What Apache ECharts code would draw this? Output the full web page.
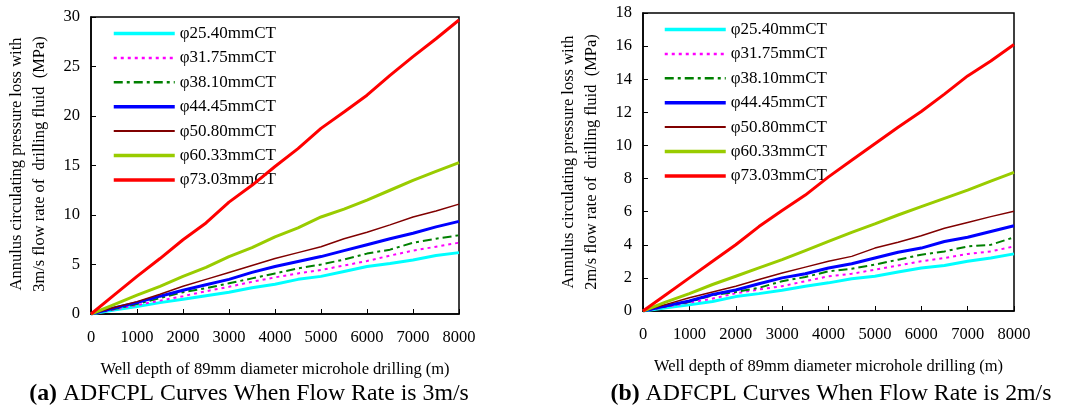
<!DOCTYPE html>
<html>
<head>
<meta charset="utf-8">
<script src="https://cdn.jsdelivr.net/npm/echarts@6/dist/echarts.min.js"></script>
<style>
html,body{margin:0;padding:0;background:#fff;}
#chart{width:1073px;height:408px;}
</style>
</head>
<body>
<div id="chart"></div>
<script>
// ---------- DATA ----------
const depths = [0,500,1000,1500,2000,2500,3000,3500,4000,4500,5000,5500,6000,6500,7000,7500,8000];
const seriesNames = ['φ25.40mmCT','φ31.75mmCT','φ38.10mmCT','φ44.45mmCT','φ50.80mmCT','φ60.33mmCT','φ73.03mmCT'];

// (a) flow rate 3 m/s  (MPa)
const a_25_40 = [0,0.4,0.75,1.15,1.5,1.85,2.2,2.65,3.0,3.5,3.8,4.3,4.8,5.1,5.45,5.9,6.2];
const a_31_75 = [0,0.45,0.9,1.35,1.8,2.3,2.75,3.25,3.7,4.1,4.45,4.9,5.35,5.9,6.4,6.8,7.2];
const a_38_10 = [0,0.5,1.0,1.6,2.2,2.6,3.1,3.6,4.1,4.6,5.0,5.5,6.1,6.5,7.2,7.6,7.95];
const a_44_45 = [0,0.6,1.15,1.8,2.4,2.95,3.5,4.2,4.8,5.3,5.8,6.4,7.0,7.6,8.15,8.8,9.36];
const a_50_80 = [0,0.65,1.25,2.0,2.8,3.5,4.2,4.9,5.6,6.2,6.8,7.6,8.25,9.0,9.8,10.4,11.1];
const a_60_33 = [0,0.95,1.9,2.8,3.8,4.7,5.8,6.7,7.8,8.7,9.8,10.6,11.5,12.5,13.5,14.4,15.3];
const a_73_03 = [0,1.9,3.8,5.6,7.5,9.2,11.3,13.0,14.9,16.7,18.75,20.4,22.1,24.1,26.0,27.8,29.7];

// (b) flow rate 2 m/s  (MPa)
const b_25_40 = [0,0.2,0.37,0.57,0.87,1.05,1.25,1.5,1.7,1.95,2.1,2.35,2.6,2.75,3.0,3.2,3.45];
const b_31_75 = [0,0.25,0.5,0.75,1.07,1.3,1.5,1.8,2.1,2.25,2.5,2.75,3.0,3.2,3.45,3.6,3.9];
const b_38_10 = [0,0.28,0.55,0.95,1.15,1.4,1.8,2.05,2.4,2.55,2.8,3.1,3.4,3.6,3.9,4.0,4.45];
const b_44_45 = [0,0.32,0.6,1.0,1.27,1.65,2.0,2.25,2.6,2.85,3.2,3.55,3.8,4.2,4.45,4.8,5.15];
const b_50_80 = [0,0.4,0.8,1.15,1.5,1.9,2.3,2.65,3.0,3.3,3.8,4.15,4.55,5.0,5.35,5.7,6.03];
const b_60_33 = [0,0.55,1.05,1.6,2.1,2.6,3.1,3.65,4.2,4.75,5.26,5.8,6.3,6.8,7.3,7.85,8.37];
const b_73_03 = [0,1.0,2.0,3.0,4.0,5.1,6.07,7.0,8.1,9.1,10.1,11.1,12.05,13.1,14.2,15.1,16.1];

const xTicks = {min:0, max:8000, interval:1000};
const yTicksA = {min:0, max:30, interval:5};
const yTicksB = {min:0, max:18, interval:2};

const xTitle = 'Well depth of 89mm diameter microhole drilling (m)';
const yTitleA = 'Annulus circulating pressure loss with\n3m/s flow rate of  drilling fluid  (MPa)';
const yTitleB = 'Annulus circulating pressure loss with\n2m/s flow rate of  drilling fluid  (MPa)';
const captionA = ['(a)', ' ADFCPL Curves When Flow Rate is 3m/s'];
const captionB = ['(b)', ' ADFCPL Curves When Flow Rate is 2m/s'];

// ---------- STYLE ----------
const FONT = '"Liberation Serif","Times New Roman",serif';
const styles = [
  {color:'#00FFFF', width:3, type:'solid'},
  {color:'#FF00FF', width:2, type:[3,4]},
  {color:'#008000', width:2, type:[9,4,3,4]},
  {color:'#0000FF', width:3, type:'solid'},
  {color:'#800000', width:1.5, type:'solid'},
  {color:'#99CC00', width:3, type:'solid'},
  {color:'#FF0000', width:3, type:'solid'}
];
const dataA = [a_25_40,a_31_75,a_38_10,a_44_45,a_50_80,a_60_33,a_73_03];
const dataB = [b_25_40,b_31_75,b_38_10,b_44_45,b_50_80,b_60_33,b_73_03];

function pairs(vals){ return depths.map((d,i)=>[d, vals[i]]); }

function mkSeries(arr, idx){
  return arr.map((vals,i)=>({
    name: seriesNames[i],
    type:'line',
    xAxisIndex: idx, yAxisIndex: idx,
    data: pairs(vals),
    symbol:'none', showSymbol:false,
    smooth:false,
    lineStyle:{color:styles[i].color, width:styles[i].width, type:styles[i].type},
    itemStyle:{color:styles[i].color},
    emphasis:{disabled:true},
    z: 2 + i
  }));
}

function xAxisCfg(idx){
  return {
    type:'value', gridIndex:idx, min:xTicks.min, max:xTicks.max, interval:xTicks.interval,
    name:xTitle, nameLocation:'middle', nameGap:47,
    nameTextStyle:{fontFamily:FONT, fontSize:16.5, color:'#000'},
    axisLine:{show:true, lineStyle:{color:'#000', width:1.5}},
    axisTick:{show:true, inside:true, length:5, lineStyle:{color:'#000', width:1}},
    axisLabel:{fontFamily:FONT, fontSize:16.5, color:'#000', margin:15, formatter:(v)=>String(v)},
    splitLine:{show:false}
  };
}
function yAxisCfg(idx, t){
  return {
    type:'value', gridIndex:idx, min:t.min, max:t.max, interval:t.interval,
    axisLine:{show:true, lineStyle:{color:'#000', width:1.5}},
    axisTick:{show:true, inside:true, length:5, lineStyle:{color:'#000', width:1}},
    axisLabel:{fontFamily:FONT, fontSize:16.5, color:'#000', margin:11, formatter:(v)=>String(v)},
    splitLine:{show:false}
  };
}
function legendCfg(left, top){
  return {
    orient:'vertical', left:left, top:top, padding:0,
    itemWidth:61, itemHeight:14, itemGap:7.4,
    data: seriesNames.map((n,i)=>({
      name:n,
      lineStyle:{color:styles[i].color, width:styles[i].width + 0.5, type:styles[i].type}
    })),
    itemStyle:{opacity:0, color:'transparent', borderWidth:0},
    textStyle:{fontFamily:FONT, fontSize:17, color:'#000'},
    selectedMode:false
  };
}

const chart = echarts.init(document.getElementById('chart'), null, {renderer:'canvas'});
chart.setOption({
  animation:false,
  backgroundColor:'#fff',
  grid:[
    {left:91, top:17, width:368, height:297, show:true, borderColor:'#000', borderWidth:1.5, backgroundColor:'#fff'},
    {left:643, top:13, width:371, height:298, show:true, borderColor:'#000', borderWidth:1.5, backgroundColor:'#fff'}
  ],
  xAxis:[xAxisCfg(0), xAxisCfg(1)],
  yAxis:[yAxisCfg(0,yTicksA), yAxisCfg(1,yTicksB)],
  legend:[legendCfg(112,25), legendCfg(663,21)],
  series:[].concat(mkSeries(dataA,0), mkSeries(dataB,1)),
  graphic:[
    {type:'text', x:28.5, y:164, rotation:Math.PI/2,
     style:{text:yTitleA, font:'16.5px '+FONT, fill:'#000', textAlign:'center', textVerticalAlign:'middle', lineHeight:23}},
    {type:'text', x:580, y:162, rotation:Math.PI/2,
     style:{text:yTitleB, font:'16.5px '+FONT, fill:'#000', textAlign:'center', textVerticalAlign:'middle', lineHeight:23}},
    {type:'text', x:249, y:394,
     style:{text:'{b|'+captionA[0]+'}{n|'+captionA[1]+'}', textAlign:'center', textVerticalAlign:'middle',
       rich:{b:{fontFamily:FONT, fontSize:23.8, fontWeight:'bold', fill:'#000', color:'#000'},
             n:{fontFamily:FONT, fontSize:23.8, fill:'#000', color:'#000'}}}},
    {type:'text', x:831, y:394,
     style:{text:'{b|'+captionB[0]+'}{n|'+captionB[1]+'}', textAlign:'center', textVerticalAlign:'middle',
       rich:{b:{fontFamily:FONT, fontSize:23.8, fontWeight:'bold', fill:'#000', color:'#000'},
             n:{fontFamily:FONT, fontSize:23.8, fill:'#000', color:'#000'}}}}
  ]
});
</script>
</body>
</html>
